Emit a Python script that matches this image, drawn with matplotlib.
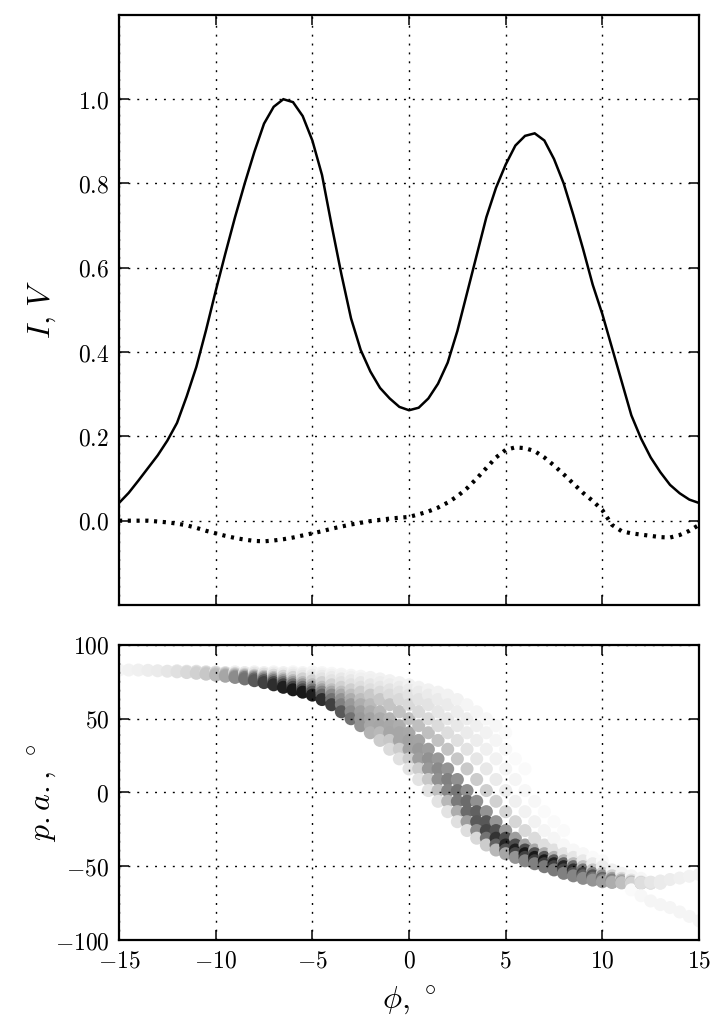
import numpy as np
import matplotlib
matplotlib.use("Agg")
import matplotlib.pyplot as plt

plt.rcParams['mathtext.fontset'] = 'cm'
plt.rcParams['font.family'] = ['DejaVu Serif']

# ---------------- data ----------------
phi = np.arange(-15, 15.001, 0.5)

I_prof = [0.042, 0.066, 0.095, 0.125, 0.155, 0.19, 0.232, 0.295, 0.365, 0.452,
          0.545, 0.634, 0.72, 0.80, 0.875, 0.942, 0.982, 1.0, 0.993, 0.96,
          0.902, 0.82, 0.70, 0.585, 0.48, 0.405, 0.354, 0.315, 0.29, 0.27,
          0.262, 0.268, 0.29, 0.325, 0.375, 0.45, 0.54, 0.63, 0.72, 0.79,
          0.845, 0.89, 0.913, 0.919, 0.902, 0.858, 0.80, 0.725, 0.645, 0.56,
          0.49, 0.41, 0.33, 0.25, 0.195, 0.15, 0.115, 0.085, 0.065, 0.05, 0.042]

V_prof = [0.0, 0.0, 0.0, 0.0, -0.002, -0.004, -0.007, -0.011, -0.017, -0.024,
          -0.03, -0.036, -0.041, -0.045, -0.048, -0.049, -0.047, -0.044, -0.04, -0.035,
          -0.03, -0.025, -0.019, -0.014, -0.009, -0.005, -0.001, 0.002, 0.005, 0.007,
          0.009, 0.015, 0.022, 0.031, 0.043, 0.058, 0.077, 0.1, 0.125, 0.15,
          0.168, 0.174, 0.172, 0.165, 0.15, 0.131, 0.11, 0.088, 0.066, 0.047,
          0.025, -0.01, -0.025, -0.03, -0.033, -0.036, -0.039, -0.04, -0.034, -0.024, -0.01]

# position-angle tracks: start phase, pa values, darkness (0 white .. 1 black)
t1_start = -15.0
t1_pa = [83, 83, 83, 82.8, 82.5, 82.2, 81.8, 81.3, 80.8, 80.2, 79.5, 78.8, 78, 77, 75.8,
         74.5, 73, 71.3, 69.6, 68, 66, 63, 59.5, 54.7, 50, 45.3, 40.5, 35.3, 29.3, 22.8,
         16, 8.8, 1.3, -6, -13, -19.8, -25.8, -31, -35.6, -39, -41.5, -44, -46.3, -48.3,
         -50.3, -52.5, -54.8, -56.5, -58.2, -59.4, -60.5, -61, -61.3, -61.5, -61.3, -60.8,
         -60, -59, -58, -56.8, -55.5]
t1_dk = [0.04, 0.05, 0.06, 0.07, 0.08, 0.10, 0.12, 0.15, 0.18, 0.22, 0.28, 0.35, 0.45, 0.55,
         0.65, 0.75, 0.82, 0.88, 0.9, 0.9, 0.88, 0.82, 0.75, 0.65, 0.55, 0.42, 0.3, 0.2, 0.14,
         0.12, 0.11, 0.11, 0.11, 0.11, 0.11, 0.12, 0.13, 0.15, 0.2, 0.28, 0.35, 0.42, 0.48,
         0.5, 0.52, 0.52, 0.5, 0.48, 0.45, 0.42, 0.38, 0.32, 0.25, 0.18, 0.13, 0.1, 0.08,
         0.07, 0.06, 0.05, 0.05]

t2_start = -12.0
t2_pa = [82.2, 81.8, 81.3, 80.8, 80.2, 79.5, 78.8, 78, 77, 75.8, 74.5, 73, 71.3, 69.6, 68,
         66, 63, 59.5, 54.7, 50, 45.3, 40.5, 35.3, 29.3, 22.8, 16, 8.8, 1.3, -6, -13, -19.8,
         -25.8, -31, -35.6, -39, -41.5, -44, -46.3, -48.3, -50.3, -52.5, -54.8, -56.5, -58.2,
         -59.4, -60.5, -61, -61.3, -61.5, -61.3, -60.8]
t2_dk = [0.1, 0.13, 0.16, 0.2, 0.25, 0.32, 0.4, 0.5, 0.58, 0.65, 0.7, 0.72, 0.72, 0.7, 0.66,
         0.6, 0.55, 0.5, 0.45, 0.4, 0.34, 0.28, 0.22, 0.2, 0.2, 0.2, 0.22, 0.25, 0.28, 0.32,
         0.38, 0.45, 0.55, 0.62, 0.68, 0.72, 0.75, 0.76, 0.76, 0.75, 0.72, 0.68, 0.62, 0.56,
         0.5, 0.42, 0.33, 0.25, 0.18, 0.12, 0.08]

t3_start = -12.0
t3_pa = [82.5, 82.2, 81.8, 81.3, 80.8, 80.2, 79.5, 78.8, 78, 77, 75.8, 74.5, 73, 71.3, 69.6,
         68, 66, 63, 59.5, 54.7, 50, 45.3, 40.5, 35.3, 29.3, 22.8, 16, 8.8, 1.3, -6, -13,
         -19.8, -25.8, -31, -35.6, -39, -41.5, -44, -46.3, -48.3, -50.3, -52.5, -54.8, -56.5,
         -58.2, -59.4, -60.5, -61, -61.3, -61.5, -61.3]
t3_dk = [0.08, 0.1, 0.13, 0.16, 0.2, 0.25, 0.3, 0.36, 0.42, 0.48, 0.52, 0.55, 0.56, 0.55, 0.52,
         0.48, 0.45, 0.42, 0.4, 0.38, 0.36, 0.35, 0.35, 0.35, 0.36, 0.38, 0.4, 0.43, 0.47, 0.52,
         0.58, 0.65, 0.72, 0.8, 0.85, 0.88, 0.9, 0.9, 0.9, 0.88, 0.85, 0.8, 0.74, 0.67, 0.6,
         0.5, 0.4, 0.3, 0.2, 0.13, 0.08]

t4_start = -11.0
t4_pa = [82.2, 81.8, 81.3, 80.8, 80.2, 79.5, 78.8, 78, 77, 75.8, 74.5, 73, 71.3, 69.6, 68,
         66, 63, 59.5, 54.7, 50, 45.3, 40.5, 35.3, 29.3, 22.8, 16, 8.8, 1.3, -6, -13, -19.8,
         -25.8, -31, -35.6, -39, -41.5, -44, -46.3, -48.3, -50.3, -52.5, -54.8, -56.5, -58.2,
         -59.4, -60.5, -61, -61.3, -61.5]
t4_dk = [0.1, 0.12, 0.15, 0.18, 0.22, 0.26, 0.3, 0.34, 0.38, 0.4, 0.4, 0.4, 0.38, 0.36, 0.34,
         0.33, 0.32, 0.32, 0.32, 0.33, 0.34, 0.35, 0.37, 0.4, 0.43, 0.46, 0.5, 0.54, 0.58, 0.62,
         0.66, 0.68, 0.7, 0.7, 0.7, 0.68, 0.66, 0.63, 0.6, 0.56, 0.52, 0.47, 0.42, 0.36, 0.3,
         0.23, 0.16, 0.1, 0.07]

t5_start = -10.0
t5_pa = [81.8, 81.3, 80.8, 80.2, 79.5, 78.8, 78, 77, 75.8, 74.5, 73, 71.3, 69.6, 68, 66, 63,
         59.5, 54.7, 50, 45.3, 40.5, 35.3, 29.3, 22.8, 16, 8.8, 1.3, -6, -13, -19.8, -25.8,
         -31, -35.6, -39, -41.5, -44, -46.3, -48.3, -50.3, -52.5, -54.8, -56.5, -58.2, -59.4,
         -60.5, -61, -61.3]
t5_dk = [0.08, 0.1, 0.13, 0.16, 0.19, 0.22, 0.25, 0.27, 0.28, 0.28, 0.27, 0.26, 0.25, 0.25,
         0.25, 0.26, 0.27, 0.28, 0.3, 0.32, 0.34, 0.36, 0.38, 0.4, 0.42, 0.43, 0.43, 0.43, 0.42,
         0.41, 0.4, 0.38, 0.36, 0.34, 0.32, 0.3, 0.28, 0.26, 0.24, 0.22, 0.2, 0.17, 0.14, 0.11,
         0.08, 0.06, 0.04]

t6_start = -9.0
t6_pa = [81.8, 81.3, 80.8, 80.2, 79.5, 78.8, 78, 77, 75.8, 74.5, 73, 71.3, 69.6, 68, 66, 63,
         59.5, 54.7, 50, 45.3, 40.5, 35.3, 29.3, 22.8, 16, 8.8, 1.3, -6, -13, -19.8, -25.8,
         -31, -35.6, -39, -41.5, -44, -46.3, -48.3, -50.3, -52.5, -54.8, -56.5, -58.2]
t6_dk = [0.06, 0.08, 0.1, 0.12, 0.14, 0.16, 0.17, 0.18, 0.18, 0.18, 0.18, 0.18, 0.19, 0.2,
         0.21, 0.22, 0.23, 0.24, 0.25, 0.25, 0.25, 0.24, 0.23, 0.22, 0.21, 0.2, 0.19, 0.18,
         0.17, 0.16, 0.15, 0.14, 0.13, 0.12, 0.11, 0.1, 0.09, 0.08, 0.07, 0.06, 0.05, 0.04, 0.03]

t7_start = -8.0
t7_pa = [81.8, 81.3, 80.8, 80.2, 79.5, 78.8, 78, 77, 75.8, 74.5, 73, 71.3, 69.6, 68, 66, 63,
         59.5, 54.7, 50, 45.3, 40.5, 35.3, 29.3, 22.8, 16, 8.8, 1.3, -6, -13, -19.8, -25.8,
         -31, -35.6, -39, -41.5, -44, -46.3]
t7_dk = [0.05, 0.06, 0.07, 0.08, 0.09, 0.1, 0.1, 0.11, 0.11, 0.12, 0.12, 0.13, 0.13, 0.14,
         0.14, 0.15, 0.15, 0.15, 0.15, 0.14, 0.13, 0.12, 0.11, 0.1, 0.09, 0.08, 0.07, 0.06,
         0.05, 0.05, 0.04, 0.04, 0.03, 0.03, 0.03, 0.02, 0.02]

t8_start = -7.0
t8_pa = [81.8, 81.3, 80.8, 80.2, 79.5, 78.8, 78, 77, 75.8, 74.5, 73, 71.3, 69.6, 68, 66, 63,
         59.5, 54.7, 50, 45.3, 40.5, 35.3, 29.3, 22.8, 16, 8.8, 1.3, -6, -13, -19.8, -25.8]
t8_dk = [0.04, 0.05, 0.06, 0.07, 0.07, 0.08, 0.08, 0.09, 0.09, 0.1, 0.1, 0.1, 0.11, 0.11,
         0.11, 0.11, 0.11, 0.1, 0.1, 0.09, 0.08, 0.07, 0.06, 0.05, 0.04, 0.04, 0.03, 0.03,
         0.02, 0.02, 0.02]

t9_start = -6.0
t9_pa = [81.8, 81.3, 80.8, 80.2, 79.5, 78.8, 78, 77, 75.8, 74.5, 73, 71.3, 69.6, 68, 66, 63,
         59.5, 54.7, 50, 45.3, 40.5, 35.3, 29.3, 22.8, 16]
t9_dk = [0.03, 0.04, 0.04, 0.05, 0.05, 0.05, 0.06, 0.06, 0.06, 0.07, 0.07, 0.08, 0.08, 0.08,
         0.08, 0.08, 0.08, 0.07, 0.07, 0.06, 0.05, 0.04, 0.03, 0.02, 0.02]

t10_start = -5.0
t10_pa = [81.8, 81.3, 80.8, 80.2, 79.5, 78.8, 78, 77, 75.8, 74.5, 73, 71.3, 69.6, 68, 66, 63,
          59.5, 54.7, 50, 45.3, 40.5]
t10_dk = [0.03, 0.03, 0.03, 0.04, 0.04, 0.04, 0.05, 0.05, 0.05, 0.05, 0.05, 0.05, 0.05, 0.05,
          0.05, 0.05, 0.04, 0.04, 0.03, 0.03, 0.02]

tlow_start = 11.5
tlow_pa = [-66, -70, -73.5, -76, -78, -81, -84, -87]
tlow_dk = [0.02, 0.03, 0.04, 0.04, 0.04, 0.04, 0.04, 0.04]

tracks = [(tlow_start, tlow_pa, tlow_dk), (t1_start, t1_pa, t1_dk), (t2_start, t2_pa, t2_dk),
          (t3_start, t3_pa, t3_dk), (t4_start, t4_pa, t4_dk), (t5_start, t5_pa, t5_dk),
          (t6_start, t6_pa, t6_dk), (t7_start, t7_pa, t7_dk), (t8_start, t8_pa, t8_dk),
          (t9_start, t9_pa, t9_dk), (t10_start, t10_pa, t10_dk)]

xticks = [-15, -10, -5, 0, 5, 10, 15]
xtick_labels = ['-15', '-10', '-5', '0', '5', '10', '15']
yticks_top = [0.0, 0.2, 0.4, 0.6, 0.8, 1.0]
ytick_labels_top = ['0.0', '0.2', '0.4', '0.6', '0.8', '1.0']
yticks_bot = [-100, -50, 0, 50, 100]
ytick_labels_bot = ['-100', '-50', '0', '50', '100']

# ---------------- figure ----------------
fig = plt.figure(figsize=(7.28, 10.28), dpi=100)
ax1 = fig.add_axes([0.1635, 0.4115, 0.7967, 0.574])
ax2 = fig.add_axes([0.1635, 0.0856, 0.7967, 0.287])

grid_kw = dict(color='k', linestyle=(0, (1.4, 5.0)), linewidth=1.0)

for ax in (ax1, ax2):
    for s in ax.spines.values():
        s.set_linewidth(1.6)
    ax.tick_params(which='both', direction='in', top=True, right=True,
                   length=7, width=1.1, labelsize=17, pad=7)
    ax.set_xlim(-15, 15)
    ax.set_xticks(xticks)
    ax.grid(True, **grid_kw)
    ax.set_axisbelow(False)

# top panel
ax1.plot(phi, I_prof, color='k', lw=1.8, solid_joinstyle='miter', zorder=3)
ax1.plot(phi, V_prof, color='k', lw=3.0, linestyle=(0, (0.75, 1.35)), zorder=3)
ax1.set_ylim(-0.2, 1.2)
ax1.set_yticks(yticks_top)
ax1.set_yticklabels(['$' + s + '$' for s in ytick_labels_top])
ax1.set_xticklabels([])
ax1.set_ylabel(r'$I{,}\ V$', fontsize=23)
ax1.yaxis.set_label_coords(-0.105, 0.5)

# bottom panel
pts = []
for k, (st, pa, dk) in enumerate(tracks):
    for j in range(len(pa)):
        pts.append((st + 0.5 * j, -k, pa[j], dk[j]))
pts.sort(key=lambda t: (t[0], t[1]))
xs = np.array([p[0] for p in pts])
ys = np.array([p[2] for p in pts])
ds = np.array([p[3] for p in pts])
cols = [(1 - d, 1 - d, 1 - d) for d in ds]
ax2.scatter(xs, ys, s=88, c=cols, edgecolors='none', zorder=2)
ax2.set_ylim(-100, 100)
ax2.set_yticks(yticks_bot)
ax2.set_yticklabels(['$' + s + '$' for s in ytick_labels_bot])
ax2.set_xticklabels(['$' + s + '$' for s in xtick_labels])
ax2.set_ylabel(r'$p{.}a{.}{,}\ ^\circ$', fontsize=23)
ax2.yaxis.set_label_coords(-0.105, 0.5)
ax2.set_xlabel(r'$\phi{,}\ ^\circ$', fontsize=23)
ax2.xaxis.set_label_coords(0.5, -0.15)

fig.savefig('out.png', dpi=100)
